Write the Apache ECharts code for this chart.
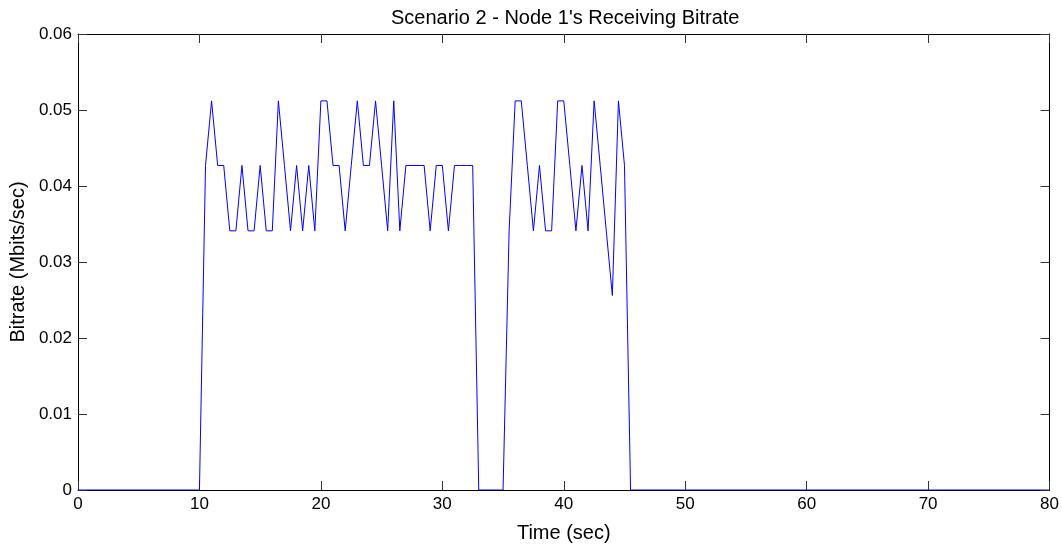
<!DOCTYPE html>
<html>
<head>
    <meta charset="utf-8">
    <title>Scenario 2 - Node 1's Receiving Bitrate</title>
    <script src="https://cdn.jsdelivr.net/npm/echarts@6/dist/echarts.min.js"></script>
    <style>
        html, body { margin: 0; padding: 0; background: #fff; }
        #chart { width: 1062px; height: 548px; }
    </style>
</head>
<body>
<div id="chart"></div>
<script>
    // time in seconds (sample points)
    var times = [0, 10, 10.5, 11, 11.5, 12, 12.5, 13, 13.5, 14, 14.5, 15, 15.5, 16, 16.5, 17, 17.5,
        18, 18.5, 19, 19.5, 20, 20.5, 21, 21.5, 22, 22.5, 23, 23.5, 24, 24.5, 25, 25.5, 26, 26.5,
        27, 27.5, 28, 28.5, 29, 29.5, 30, 30.5, 31, 31.5, 32, 32.5, 33,
        35, 35.5, 36, 36.5, 37, 37.5, 38, 38.5, 39, 39.5, 40, 40.5, 41, 41.5, 42, 42.5, 43, 43.5,
        44, 44.5, 45, 45.5, 80];
    // bitrate in Mbits/sec
    var bitrate = [0, 0, 0.0427, 0.0512, 0.0427, 0.0427, 0.0341, 0.0341, 0.0427, 0.0341, 0.0341, 0.0427, 0.0341, 0.0341, 0.0512, 0.0427, 0.0341,
        0.0427, 0.0341, 0.0427, 0.0341, 0.0512, 0.0512, 0.0427, 0.0427, 0.0341, 0.0427, 0.0512, 0.0427, 0.0427, 0.0512, 0.0427, 0.0341, 0.0512, 0.0341,
        0.0427, 0.0427, 0.0427, 0.0427, 0.0341, 0.0427, 0.0427, 0.0341, 0.0427, 0.0427, 0.0427, 0.0427, 0,
        0, 0.0341, 0.0512, 0.0512, 0.0427, 0.0341, 0.0427, 0.0341, 0.0341, 0.0512, 0.0512, 0.0427, 0.0341, 0.0427, 0.0341, 0.0512, 0.0427, 0.0341,
        0.0256, 0.0512, 0.0427, 0, 0];
    var xTickLabels = ['0', '10', '20', '30', '40', '50', '60', '70', '80'];
    var yTickLabels = ['0', '0.01', '0.02', '0.03', '0.04', '0.05', '0.06'];

    var points = [];
    for (var i = 0; i < times.length; i++) {
        points.push([times[i], bitrate[i]]);
    }

    var font = 'Liberation Sans, Arial, Helvetica, sans-serif';
    // box round the plot, ticks pointing inwards on all four sides
    var frame = { show: true, onZero: false, lineStyle: { color: '#000', width: 1 } };
    var inTick = { show: true, inside: true, length: 9, lineStyle: { color: '#333', width: 1 } };

    var myChart = echarts.init(document.getElementById('chart'));
    myChart.setOption({
        animation: false,
        backgroundColor: '#fff',
        title: {
            // centred over the plot area, not the page
            text: "Scenario 2 - Node 1's Receiving Bitrate",
            left: 386,
            top: 3,
            textStyle: { fontFamily: font, fontSize: 20, fontWeight: 'normal', color: '#000' }
        },
        grid: { left: 78, right: 11, top: 34, bottom: 56 },
        xAxis: [{
            type: 'value',
            min: 0, max: 80, interval: 10,
            name: 'Time (sec)',
            nameLocation: 'middle',
            nameGap: 33,
            nameTextStyle: { fontFamily: font, fontSize: 20, color: '#000' },
            axisLine: frame,
            axisTick: inTick,
            splitLine: { show: false },
            axisLabel: {
                fontFamily: font, fontSize: 17, color: '#000', margin: 6,
                formatter: function (v) { return xTickLabels[Math.round(v / 10)]; }
            }
        }, {
            type: 'value',
            position: 'top',
            min: 0, max: 80, interval: 10,
            axisLine: frame,
            axisTick: inTick,
            splitLine: { show: false },
            axisLabel: { show: false }
        }],
        yAxis: [{
            type: 'value',
            min: 0, max: 0.06, interval: 0.01,
            name: 'Bitrate (Mbits/sec)',
            nameLocation: 'middle',
            nameGap: 40,
            nameTextStyle: { fontFamily: font, fontSize: 20, color: '#000' },
            axisLine: frame,
            axisTick: inTick,
            splitLine: { show: false },
            axisLabel: {
                fontFamily: font, fontSize: 17, color: '#000', margin: 6,
                formatter: function (v) { return yTickLabels[Math.round(v / 0.01)]; }
            }
        }, {
            type: 'value',
            position: 'right',
            min: 0, max: 0.06, interval: 0.01,
            axisLine: frame,
            axisTick: inTick,
            splitLine: { show: false },
            axisLabel: { show: false }
        }],
        series: [{
            name: 'Bitrate',
            type: 'line',
            xAxisIndex: 0,
            yAxisIndex: 0,
            data: points,
            showSymbol: false,
            lineStyle: { color: '#0000ff', width: 1 },
            z: 5
        }]
    });
</script>
</body>
</html>
